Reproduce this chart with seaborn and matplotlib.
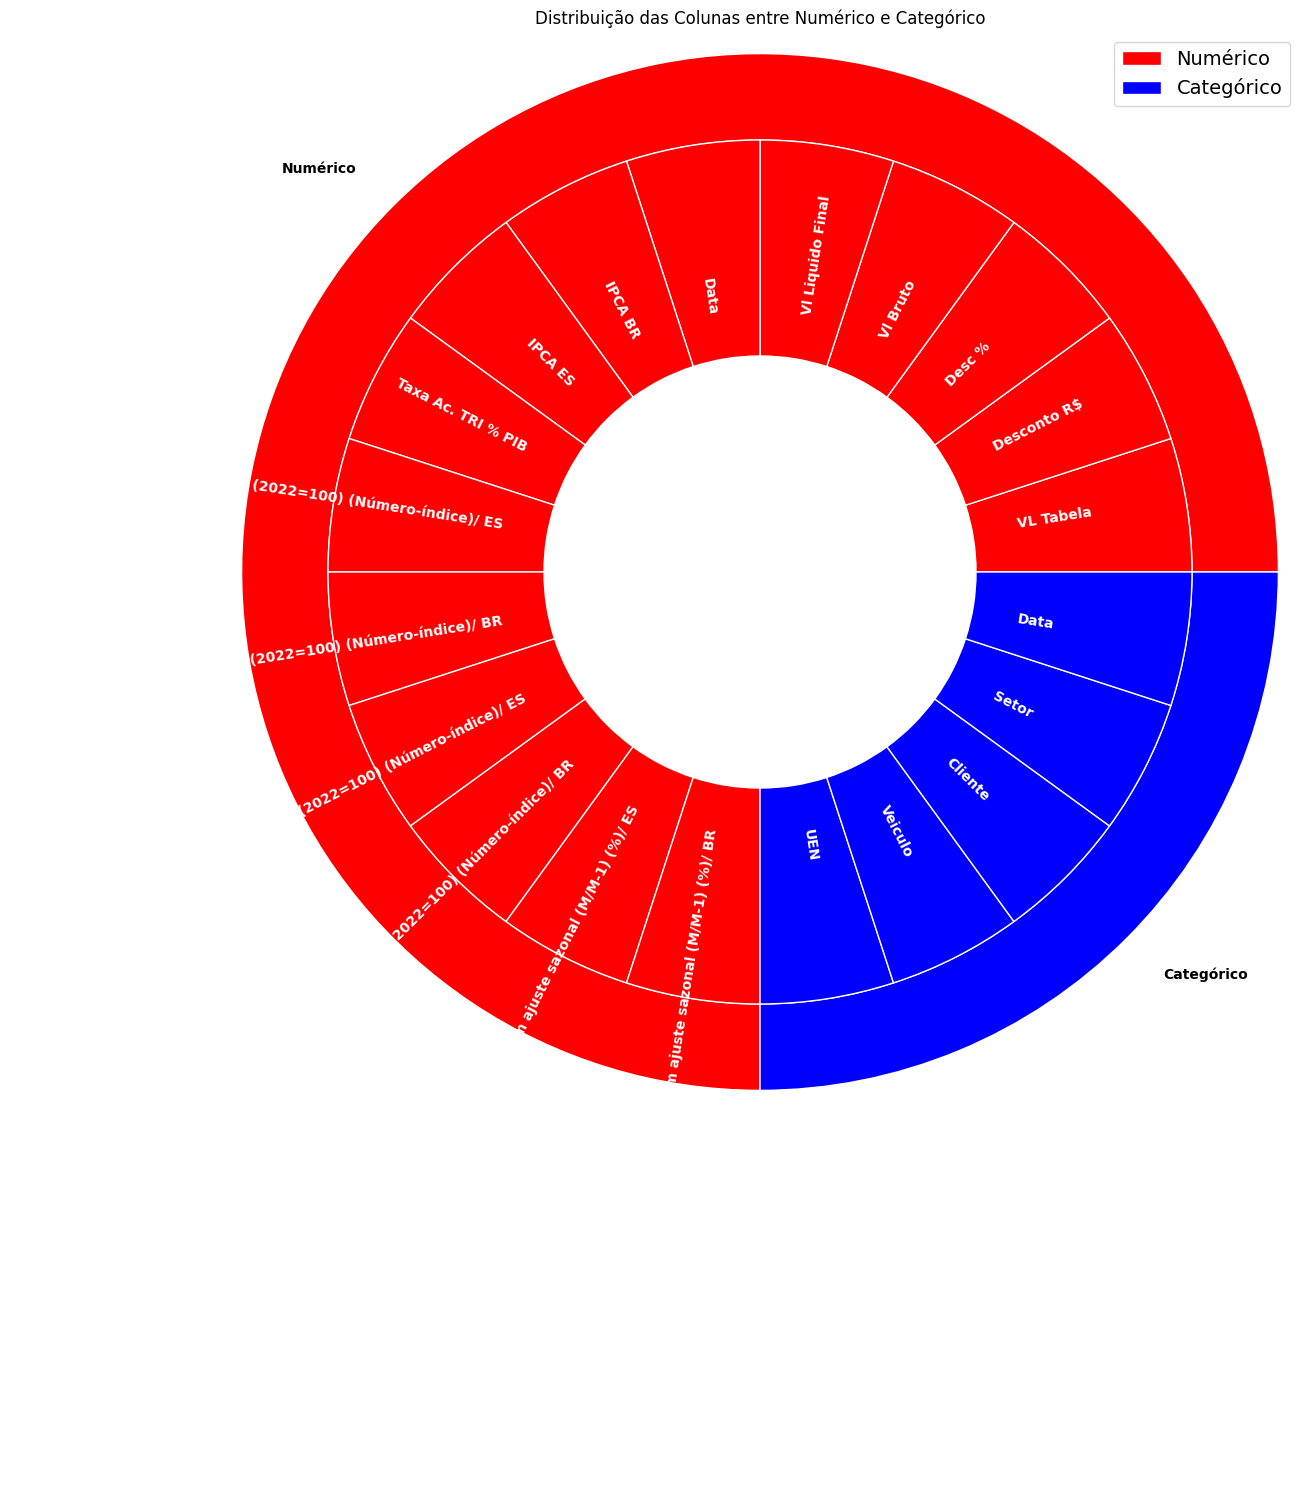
import matplotlib
matplotlib.use("Agg")
import matplotlib.pyplot as plt
import seaborn as sns

# ---- data ----
groups = ["Numérico", "Categórico"]
group_counts = [15, 5]
group_colors = ["red", "blue"]

numeric_cols = [
    "VL Tabela",
    "Desconto R$",
    "Desc %",
    "Vl Bruto",
    "Vl Liquido Final",
    "Data",
    "IPCA BR",
    "IPCA ES",
    "Taxa Ac. TRI % PIB",
    "Índice de volume de vendas no comércio varejista ampliado (2022=100) (Número-índice)/ ES",
    "Índice de volume de vendas no comércio varejista ampliado (2022=100) (Número-índice)/ BR",
    "Índice de receita nominal de vendas no comércio varejista ampliado (2022=100) (Número-índice)/ ES",
    "Índice de receita nominal de vendas no comércio varejista ampliado (2022=100) (Número-índice)/ BR",
    "Variação mensal do volume de vendas no comércio varejista ampliado sem ajuste sazonal (M/M-1) (%)/ ES",
    "Variação mensal do volume de vendas no comércio varejista ampliado sem ajuste sazonal (M/M-1) (%)/ BR",
]
categorical_cols = ["UEN", "Veiculo", "Cliente", "Setor", "Data"]
col_sizes = [1] * (len(numeric_cols) + len(categorical_cols))

palette = sns.color_palette(group_colors)
inner_colors = [palette[0]] * len(numeric_cols) + [palette[1]] * len(categorical_cols)

fig = plt.figure(figsize=(13.1, 15.01), dpi=100)
ax = fig.add_axes([220 / 1310, 389 / 1501, 1080 / 1310, 1080 / 1501])

wedges, _ = ax.pie(
    group_counts,
    labels=groups,
    colors=palette,
    radius=1.2,
    startangle=0,
    wedgeprops=dict(width=0.2, edgecolor="white"),
    textprops=dict(fontsize=10, fontweight="bold", color="black"),
)

ax.pie(
    col_sizes,
    labels=numeric_cols + categorical_cols,
    colors=inner_colors,
    radius=1.0,
    startangle=0,
    labeldistance=0.6,
    rotatelabels=True,
    wedgeprops=dict(width=0.5, edgecolor="white"),
    textprops=dict(fontsize=10, fontweight="bold", color="white"),
)

ax.set_title("Distribuição das Colunas entre Numérico e Categórico", fontsize=12)
ax.legend(wedges, groups, loc="upper right", fontsize=14)
ax.set_aspect("equal")

fig.savefig("out.png", dpi=100)
